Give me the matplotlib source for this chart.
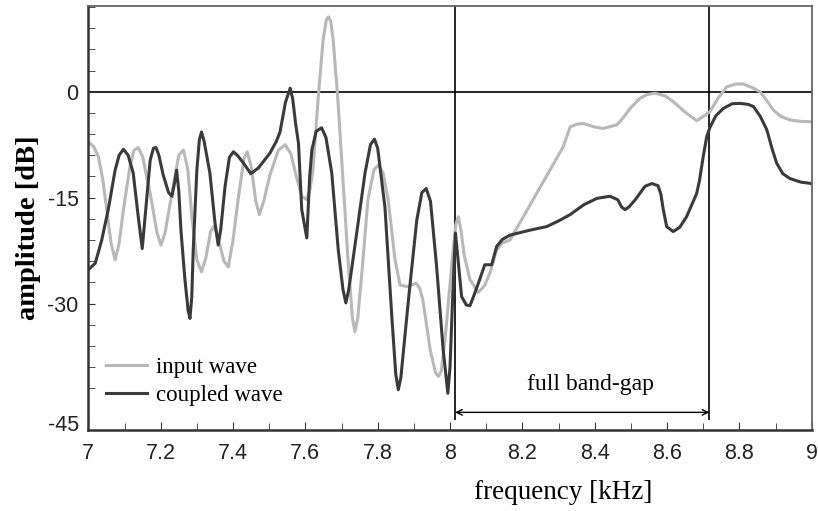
import matplotlib
matplotlib.use("Agg")
import matplotlib.pyplot as plt

# frequency [kHz] / amplitude [dB]
input_freq = [7.000, 7.015, 7.028, 7.040, 7.051, 7.063, 7.074, 7.085, 7.097, 7.115,
              7.126, 7.138, 7.150, 7.171, 7.190, 7.201, 7.212, 7.231, 7.250, 7.263,
              7.275, 7.287, 7.300, 7.313, 7.325, 7.338, 7.346, 7.355, 7.375, 7.387,
              7.400, 7.414, 7.430, 7.439, 7.450, 7.463, 7.473, 7.485, 7.502, 7.525,
              7.544, 7.560, 7.574, 7.590, 7.604, 7.613, 7.621, 7.635, 7.649, 7.658,
              7.664, 7.670, 7.677, 7.690, 7.704, 7.718, 7.730, 7.737, 7.745, 7.757,
              7.773, 7.790, 7.802, 7.815, 7.829, 7.848, 7.862, 7.884, 7.906, 7.916,
              7.925, 7.945, 7.960, 7.968, 7.976, 7.986, 8.006, 8.016, 8.023, 8.030,
              8.039, 8.055, 8.078, 8.095, 8.110, 8.129, 8.145, 8.166, 8.313, 8.332,
              8.350, 8.369, 8.400, 8.424, 8.445, 8.461, 8.480, 8.498, 8.526, 8.545,
              8.567, 8.595, 8.617, 8.650, 8.682, 8.700, 8.719, 8.740, 8.765, 8.790,
              8.811, 8.835, 8.857, 8.875, 8.894, 8.915, 8.940, 8.970, 9.000]
input_amp = [-7.1, -7.8, -9.2, -12.5, -16.7, -21.5, -23.8, -21.5, -16.7, -10.6,
             -8.3, -7.9, -9.2, -14.4, -20.0, -21.7, -20.0, -14.4, -9.0, -8.25,
             -11.0, -18.1, -23.8, -25.5, -23.5, -19.8, -19.1, -20.0, -24.0, -24.8,
             -21.0, -15.3, -9.5, -8.5, -10.5, -15.5, -17.4, -15.5, -11.8, -8.3,
             -7.5, -8.8, -11.8, -14.8, -15.3, -13.8, -11.1, -1.2, 7.3, 10.2,
             10.6, 10.0, 7.3, -1.2, -12.5, -23.8, -32.0, -34.0, -32.0, -25.2,
             -15.3, -11.0, -10.4, -11.5, -15.3, -23.8, -27.4, -27.6, -27.1, -27.8,
             -29.5, -36.5, -39.8, -40.3, -39.5, -35.2, -23.8, -18.8, -17.7, -19.5,
             -23.1, -26.6, -28.4, -27.5, -25.7, -22.4, -21.4, -21.0, -7.8, -5.0,
             -4.6, -4.5, -5.0, -5.2, -4.9, -4.7, -3.6, -2.35, -0.9, -0.4,
             -0.2, -0.6, -1.4, -2.9, -4.1, -3.5, -2.8, -1.0, 0.7, 1.1,
             1.1, 0.6, 0.0, -1.2, -2.6, -3.5, -4.0, -4.2, -4.25]

coupled_freq = [7.000, 7.019, 7.037, 7.055, 7.074, 7.085, 7.097, 7.110, 7.124, 7.138,
                7.149, 7.161, 7.171, 7.180, 7.187, 7.195, 7.207, 7.222, 7.231, 7.238,
                7.244, 7.250, 7.256, 7.267, 7.276, 7.281, 7.286, 7.290, 7.300, 7.307,
                7.313, 7.320, 7.336, 7.350, 7.359, 7.366, 7.378, 7.390, 7.401, 7.412,
                7.429, 7.449, 7.470, 7.502, 7.520, 7.530, 7.545, 7.558, 7.565, 7.573,
                7.581, 7.590, 7.604, 7.612, 7.618, 7.630, 7.645, 7.657, 7.673, 7.691,
                7.704, 7.712, 7.720, 7.742, 7.765, 7.780, 7.791, 7.800, 7.820, 7.839,
                7.850, 7.857, 7.864, 7.885, 7.908, 7.922, 7.934, 7.946, 7.963, 7.981,
                7.994, 8.000, 8.007, 8.015, 8.032, 8.045, 8.055, 8.065, 8.082, 8.096,
                8.115, 8.129, 8.145, 8.166, 8.221, 8.267, 8.300, 8.332, 8.370, 8.406,
                8.442, 8.464, 8.474, 8.484, 8.495, 8.512, 8.539, 8.558, 8.575, 8.583,
                8.589, 8.599, 8.617, 8.635, 8.654, 8.672, 8.682, 8.690, 8.700, 8.710,
                8.719, 8.735, 8.756, 8.780, 8.802, 8.825, 8.839, 8.858, 8.876, 8.890,
                8.903, 8.920, 8.940, 8.970, 9.000]
coupled_amp = [-25.2, -24.3, -21.0, -16.7, -11.1, -9.0, -8.15, -9.0, -11.5, -17.7,
               -22.2, -15.3, -9.7, -8.0, -7.9, -9.0, -11.8, -14.3, -14.8, -13.0,
               -11.1, -14.0, -19.6, -26.6, -31.0, -32.1, -29.0, -22.4, -11.1, -6.8,
               -5.7, -7.0, -11.5, -18.5, -21.7, -19.5, -13.4, -9.3, -8.5, -9.0,
               -10.1, -11.6, -10.8, -8.7, -7.0, -5.7, -1.5, 0.5, -1.0, -4.5,
               -7.3, -16.7, -20.7, -12.0, -8.25, -5.6, -5.1, -6.5, -11.5, -22.4,
               -28.0, -29.9, -28.0, -20.0, -11.5, -7.5, -6.7, -8.0, -16.3, -31.8,
               -40.0, -42.2, -40.5, -29.5, -18.2, -14.3, -13.7, -15.5, -24.8, -36.5,
               -42.7, -39.0, -29.5, -20.0, -29.0, -30.2, -30.3, -29.0, -26.6, -24.5,
               -24.5, -21.9, -20.9, -20.3, -19.6, -19.1, -18.3, -17.4, -16.0, -15.1,
               -14.8, -15.3, -16.3, -16.7, -16.3, -15.3, -13.4, -13.0, -13.3, -14.5,
               -16.5, -19.1, -19.8, -19.2, -17.7, -15.6, -14.4, -12.5, -9.2, -6.3,
               -5.0, -3.4, -2.35, -1.7, -1.65, -1.8, -2.1, -3.5, -5.4, -8.0,
               -10.1, -11.6, -12.3, -12.8, -13.0]

gap_start = 8.014
gap_end = 8.717
x_ticks = [7, 7.2, 7.4, 7.6, 7.8, 8, 8.2, 8.4, 8.6, 8.8, 9]
x_tick_labels = ['7', '7.2', '7.4', '7.6', '7.8', '8', '8.2', '8.4', '8.6', '8.8', '9']
y_ticks = [0, -15, -30]
y_tick_labels = ['0', '-15', '-30']

serif = ['Liberation Serif', 'DejaVu Serif']
sans = ['Liberation Sans', 'DejaVu Sans']

fig = plt.figure(figsize=(8.18, 5.11), dpi=100)
ax = fig.add_axes([0.108, 0.1585, 0.8843, 0.8292])

ax.plot(input_freq, input_amp, color='#b8b8b8', lw=2.2, label='input wave')
ax.plot(coupled_freq, coupled_amp, color='#3a3a3a', lw=2.2, label='coupled wave')

ax.axhline(0, color='black', lw=1.2, zorder=1)
ax.vlines([gap_start, gap_end], -46.5, 12.1, color='black', lw=1.2, zorder=1)

ax.annotate('', xy=(gap_start, -45.4), xytext=(gap_end, -45.4),
            arrowprops=dict(arrowstyle='<->', color='black', lw=1.0,
                            shrinkA=0, shrinkB=0))
ax.text(8.387, -41.5, 'full band-gap', ha='center', va='center',
        family=serif, fontsize=17)

ax.set_xlim(7, 9)
ax.set_ylim(-47.9, 12.1)

ax.set_xticks(x_ticks, labels=x_tick_labels)
ax.set_xticks([7.1 + 0.2 * i for i in range(10)], minor=True)
ax.set_yticks(y_ticks, labels=y_tick_labels)
ax.set_yticks([-45 + 3 * i for i in range(20) if (-45 + 3 * i) % 15 != 0], minor=True)
ax.text(-0.013, 0.01, '-45', transform=ax.transAxes, ha='right', va='center',
        family=sans, fontsize=15.5, color='#222222')

ax.tick_params(axis='both', which='both', direction='in', color='#333333',
               labelsize=15.5, labelcolor='#222222')
ax.tick_params(axis='x', which='major', length=6, pad=9)
ax.tick_params(axis='x', which='minor', length=5)
ax.tick_params(axis='y', which='both', length=5, pad=7)
for lab in ax.get_xticklabels() + ax.get_yticklabels():
    lab.set_family(sans)

for side in ['left', 'bottom']:
    ax.spines[side].set_color('#333333')
    ax.spines[side].set_linewidth(1.8)
for side in ['top', 'right']:
    ax.spines[side].set_color('#666666')
    ax.spines[side].set_linewidth(1.3)

ax.set_xlabel('frequency [kHz]', family=serif, fontsize=19.5)
ax.xaxis.set_label_coords(0.656, -0.118)
ax.set_ylabel('amplitude [dB]', family=serif, fontsize=20.5, fontweight='bold')
ax.yaxis.set_label_coords(-0.066, 0.477)

ax.legend(loc='upper left', bbox_to_anchor=(0.025, 0.172), frameon=False,
          prop={'family': serif, 'size': 16.5}, handlelength=1.75,
          handletextpad=0.4, labelspacing=0.3, borderpad=0, borderaxespad=0)

fig.savefig('out.png', dpi=100)
